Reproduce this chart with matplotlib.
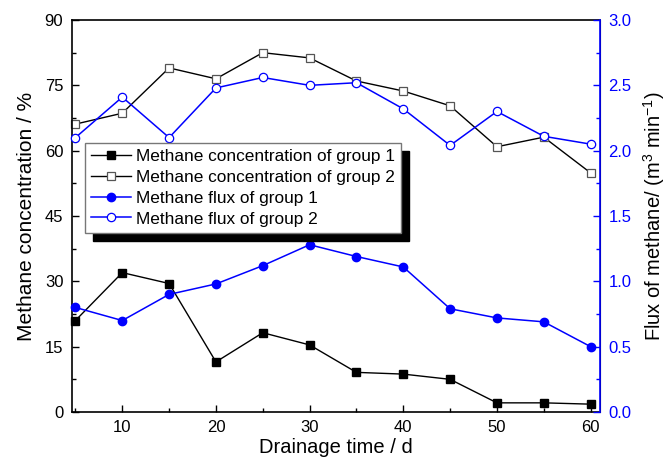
import matplotlib
matplotlib.use("Agg")
from matplotlib import pyplot as plt
from matplotlib.patches import Rectangle
from matplotlib.ticker import MultipleLocator, FormatStrFormatter

plt.rcParams['font.family'] = ['Liberation Sans', 'DejaVu Sans']
plt.rcParams['mathtext.default'] = 'regular'

## DATA ##
days = [5, 10, 15, 20, 25, 30, 35, 40, 45, 50, 55, 60]
conc_g1 = [21.0, 32.0, 29.5, 11.5, 18.2, 15.4, 9.1, 8.7, 7.5, 2.1, 2.1, 1.8]
conc_g2 = [66.1, 68.6, 79.0, 76.5, 82.5, 81.3, 76.0, 73.7, 70.3, 60.9, 63.1, 54.9]
flux_g1 = [0.80, 0.70, 0.90, 0.98, 1.12, 1.28, 1.19, 1.11, 0.79, 0.72, 0.69, 0.50]
flux_g2 = [2.10, 2.41, 2.10, 2.48, 2.56, 2.50, 2.52, 2.32, 2.04, 2.30, 2.11, 2.05]

labels = ["Methane concentration of group 1", "Methane concentration of group 2",
          "Methane flux of group 1", "Methane flux of group 2"]

BLUE = '#0000ff'

## PLOT ##
fig = plt.figure(figsize=(6.7, 4.61), dpi=100)
ax = fig.add_axes([0.107, 0.1063, 0.7885, 0.8503])
ax2 = ax.twinx()

l1, = ax.plot(days, conc_g1, color='k', lw=1, marker='s', ms=5.5,
              mfc='k', mec='k', clip_on=False)
l2, = ax.plot(days, conc_g2, color='k', lw=1, marker='s', ms=5.5,
              mfc='white', mec='#555555', mew=0.9, clip_on=False)
l3, = ax2.plot(days, flux_g1, color=BLUE, lw=1.1, marker='o', ms=6,
               mfc=BLUE, mec=BLUE, clip_on=False)
l4, = ax2.plot(days, flux_g2, color=BLUE, lw=1.1, marker='o', ms=6,
               mfc='white', mec=BLUE, mew=0.9, clip_on=False)

ax.set_xlim(4.6, 61)
ax.set_ylim(0, 90)
ax2.set_ylim(0, 3)

ax.xaxis.set_major_locator(MultipleLocator(10))
ax.xaxis.set_minor_locator(MultipleLocator(5))
ax.yaxis.set_major_locator(MultipleLocator(15))
ax.yaxis.set_minor_locator(MultipleLocator(7.5))
ax2.yaxis.set_major_locator(MultipleLocator(0.5))
ax2.yaxis.set_minor_locator(MultipleLocator(0.25))
ax2.yaxis.set_major_formatter(FormatStrFormatter('%.1f'))

ax.tick_params(which='both', direction='in', top=False, right=False, labelsize=12, width=1)
ax.tick_params(which='major', length=5, pad=6)
ax.tick_params(which='minor', length=3)
ax2.tick_params(which='both', direction='in', colors=BLUE, labelsize=12, width=1)
ax2.tick_params(which='major', length=5, pad=6)
ax2.tick_params(which='minor', length=3)

for s in ['left', 'bottom', 'top']:
    ax.spines[s].set_linewidth(1.2)
ax2.spines['right'].set_color(BLUE)
ax2.spines['right'].set_linewidth(1.2)
for s in ['left', 'bottom', 'top']:
    ax2.spines[s].set_visible(False)

ax.set_xlabel("Drainage time / d", fontsize=14.5, labelpad=2)
ax.set_ylabel("Methane concentration / %", fontsize=15, labelpad=6)
ax2.set_ylabel("Flux of methane/ (m$^3$ min$^{-1}$)", fontsize=14.5, labelpad=7)

leg = ax2.legend([l1, l2, l3, l4], labels, loc='upper left',
                 bbox_to_anchor=(0.025, 0.687), borderaxespad=0, fontsize=12.4,
                 fancybox=False, frameon=True, edgecolor='#777777',
                 framealpha=1, handlelength=2.3, handletextpad=0.3,
                 labelspacing=0.34, borderpad=0.35)
leg.get_frame().set_linewidth(1)

# hard black drop shadow behind the legend box
fig.canvas.draw()
bb = leg.get_frame().get_window_extent()
inv = ax2.transAxes.inverted()
(x0, y0), (x1, y1) = inv.transform([[bb.x0 + 8, bb.y0 - 8], [bb.x1 + 8, bb.y1 - 8]])
ax2.add_patch(Rectangle((x0, y0), x1 - x0, y1 - y0, transform=ax2.transAxes,
                        color='k', zorder=4.9, clip_on=False))

fig.savefig("out.png", dpi=100)
